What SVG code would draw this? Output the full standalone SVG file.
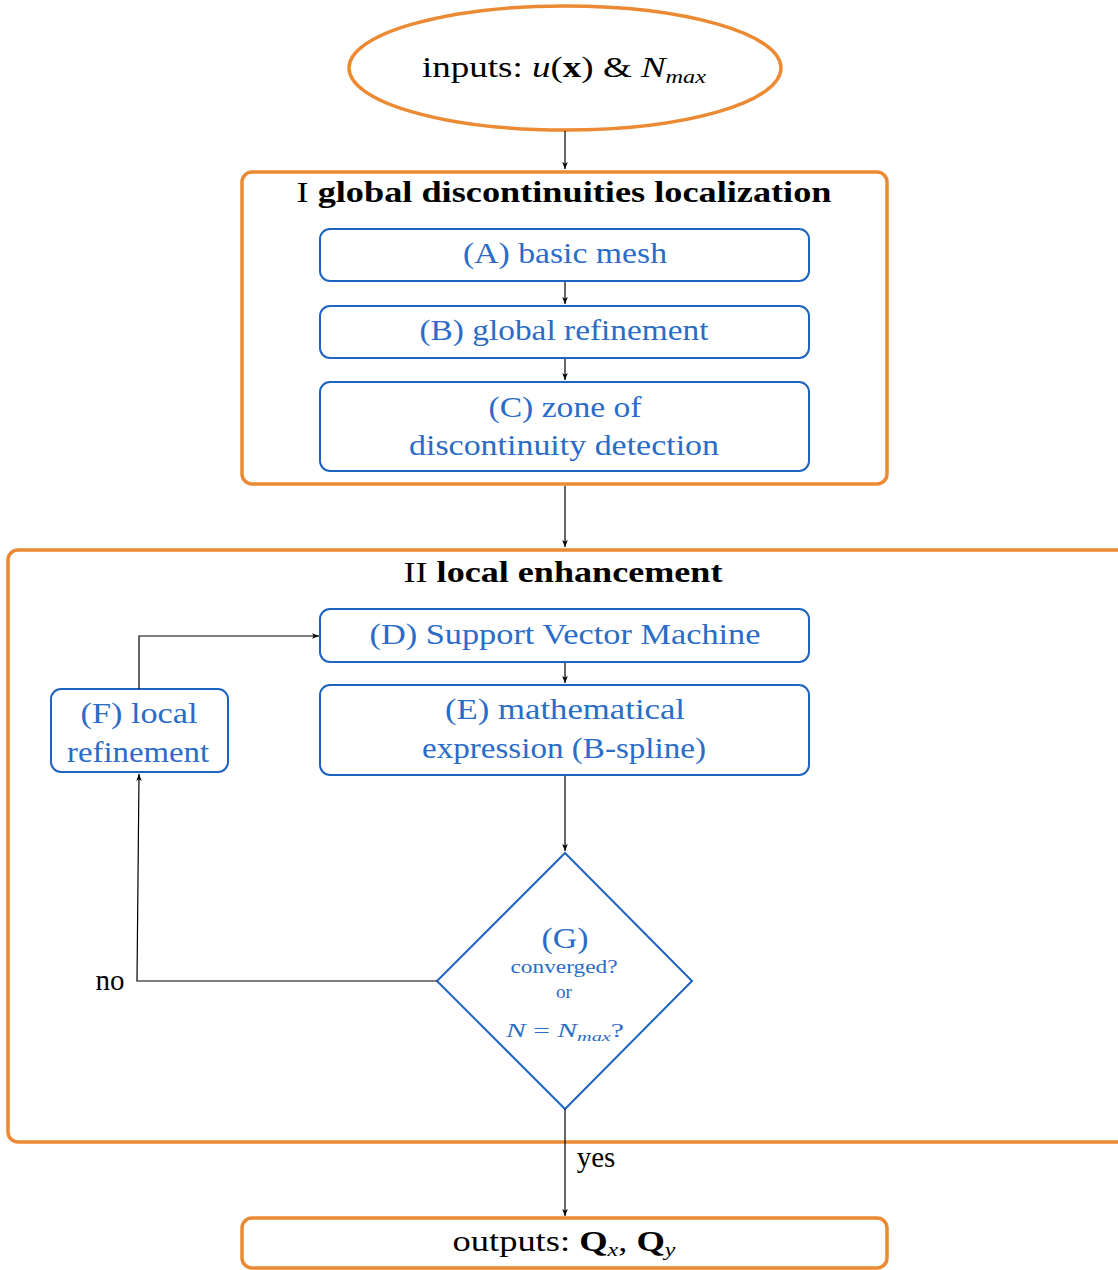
<svg xmlns="http://www.w3.org/2000/svg" width="1118" height="1270" viewBox="0 0 1118 1270">
<style>
.org{fill:#fff;stroke:#EC8A33;stroke-width:3.5}
.blu{fill:#fff;stroke:#1E63C2;stroke-width:2}
.t{font-family:"Liberation Serif","DejaVu Serif",serif;font-size:29px;fill:#000;text-anchor:middle}
.b{fill:#2A6CC6}
.bold{font-weight:bold}
.it{font-style:italic}
.sub{font-size:19px;font-style:italic}
.con{fill:none;stroke:#000;stroke-width:1.2}
</style>
<defs>
<marker id="ah" viewBox="0 0 10 10" refX="10" refY="5" markerWidth="7" markerHeight="7" markerUnits="userSpaceOnUse" orient="auto">
<path d="M0,1 L10,5 L0,9 L2.5,5 Z" fill="#000"/>
</marker>
</defs>
<g id="inputs">
<ellipse class="org" cx="565" cy="68" rx="216" ry="62"/>
<text class="t" x="564" y="77" textLength="284" lengthAdjust="spacingAndGlyphs">inputs:  <tspan class="it">u</tspan>(<tspan class="bold">x</tspan>) &amp; <tspan class="it">N</tspan><tspan class="sub" dy="6">max</tspan></text>
</g>
<g id="stage1">
<rect class="org" x="242" y="172" width="645" height="312" rx="10"/>
<text class="t" x="564" y="202" textLength="535" lengthAdjust="spacingAndGlyphs">I <tspan class="bold">global discontinuities localization</tspan></text>
</g>
<g id="nodeA">
<rect class="blu" x="320" y="229" width="489" height="52" rx="10"/>
<text class="t b" x="565" y="263" textLength="204" lengthAdjust="spacingAndGlyphs">(A) basic mesh</text>
</g>
<g id="nodeB">
<rect class="blu" x="320" y="306" width="489" height="52" rx="10"/>
<text class="t b" x="564" y="340" textLength="289" lengthAdjust="spacingAndGlyphs">(B) global refinement</text>
</g>
<g id="nodeC">
<rect class="blu" x="320" y="382" width="489" height="89" rx="10"/>
<text class="t b" x="565" y="417" textLength="153" lengthAdjust="spacingAndGlyphs">(C) zone of</text>
<text class="t b" x="564" y="455" textLength="310" lengthAdjust="spacingAndGlyphs">discontinuity detection</text>
</g>
<g id="stage2">
<rect class="org" x="8" y="550" width="1125" height="592" rx="10"/>
<text class="t" x="563" y="582" textLength="319" lengthAdjust="spacingAndGlyphs">II <tspan class="bold">local enhancement</tspan></text>
</g>
<g id="nodeD">
<rect class="blu" x="320" y="609" width="489" height="53" rx="10"/>
<text class="t b" x="565" y="644" textLength="391" lengthAdjust="spacingAndGlyphs">(D) Support Vector Machine</text>
</g>
<g id="nodeE">
<rect class="blu" x="320" y="685" width="489" height="90" rx="10"/>
<text class="t b" x="565" y="719" textLength="240" lengthAdjust="spacingAndGlyphs">(E) mathematical</text>
<text class="t b" x="564" y="758" textLength="284" lengthAdjust="spacingAndGlyphs">expression (B-spline)</text>
</g>
<g id="nodeF">
<rect class="blu" x="51" y="689" width="177" height="83" rx="10"/>
<text class="t b" x="139" y="723" textLength="117" lengthAdjust="spacingAndGlyphs">(F) local</text>
<text class="t b" x="138" y="762" textLength="142" lengthAdjust="spacingAndGlyphs">refinement</text>
</g>
<g id="nodeG">
<path class="blu" d="M565,853 L692,981 L565,1109 L437,981 Z"/>
<text class="t b" x="565" y="948" textLength="47" lengthAdjust="spacingAndGlyphs">(G)</text>
<text class="t b" x="564" y="973" style="font-size:19px" textLength="107" lengthAdjust="spacingAndGlyphs">converged?</text>
<text class="t b" x="564" y="998" style="font-size:19px">or</text>
<text class="t b" x="565" y="1037" style="font-size:19px" textLength="118" lengthAdjust="spacingAndGlyphs"><tspan class="it">N</tspan> = <tspan class="it">N</tspan><tspan style="font-size:13px;font-style:italic" dy="4">max</tspan><tspan dy="-4">?</tspan></text>
</g>
<g id="outputs">
<rect class="org" x="242" y="1218" width="645" height="50" rx="10"/>
<text class="t" x="564" y="1251" textLength="223" lengthAdjust="spacingAndGlyphs">outputs:  <tspan class="bold">Q</tspan><tspan class="sub" dy="5">x</tspan><tspan dy="-5">, </tspan><tspan class="bold">Q</tspan><tspan class="sub" dy="5">y</tspan></text>
</g>
<g id="connectors">
<path class="con" d="M565,131 V169" marker-end="url(#ah)"/>
<path class="con" d="M565,282 V304" marker-end="url(#ah)"/>
<path class="con" d="M565,359 V380" marker-end="url(#ah)"/>
<path class="con" d="M565,486 V547" marker-end="url(#ah)"/>
<path class="con" d="M565,663 V683" marker-end="url(#ah)"/>
<path class="con" d="M565,776 V851" marker-end="url(#ah)"/>
<path class="con" d="M437,981 H137 L139,774" marker-end="url(#ah)"/>
<path class="con" d="M139,689 V636 H319" marker-end="url(#ah)"/>
<path class="con" d="M565,1109 V1216" marker-end="url(#ah)"/>
<text class="t" x="110" y="990">no</text>
<text class="t" x="596" y="1167">yes</text>
</g>
</svg>
